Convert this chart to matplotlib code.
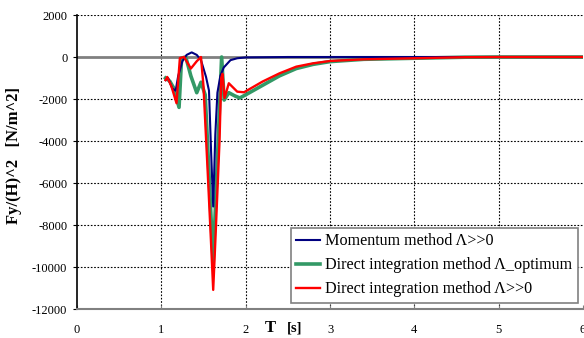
import matplotlib
matplotlib.use("Agg")
import matplotlib.pyplot as plt

plt.rcParams['font.family'] = ['Liberation Serif', 'DejaVu Serif']
plt.rcParams['axes.unicode_minus'] = False

# Momentum method
t_mom = [1.05, 1.08, 1.13, 1.17, 1.20, 1.25, 1.30, 1.36, 1.42, 1.47, 1.53, 1.565, 1.59, 1.615,
         1.64, 1.665, 1.70, 1.74, 1.82, 1.90, 2.0, 2.5, 3.0, 4.0, 5.0, 6.0]
f_mom = [-1100, -1000, -1500, -1600, -900, -200, 100, 220, 100, -150, -950, -1600, -4500, -7120,
         -3700, -1700, -900, -500, -150, -60, -20, 0, 0, 0, 0, 0]

# Direct integration, Lambda optimum
t_opt = [1.05, 1.10, 1.15, 1.21, 1.24, 1.29, 1.35, 1.42, 1.47, 1.52, 1.56, 1.59, 1.615, 1.64,
         1.68, 1.715, 1.745, 1.80, 1.87, 1.93, 2.0, 2.2, 2.4, 2.6, 2.8, 3.0, 3.4, 4.0, 4.6, 5.0, 6.0]
f_opt = [-1000, -1150, -1500, -2400, -50, 0, -900, -1700, -1200, -1800, -5100, -7700, -9740, -7300,
         -3400, 0, -2050, -1700, -1850, -1950, -1800, -1350, -900, -550, -350, -220, -110, -60, -10, 0, 0]

# Direct integration, Lambda >> 0
t_big = [1.05, 1.07, 1.12, 1.18, 1.22, 1.27, 1.35, 1.42, 1.47, 1.50, 1.55, 1.59, 1.615, 1.64,
         1.69, 1.71, 1.725, 1.75, 1.80, 1.90, 1.98, 2.2, 2.4, 2.6, 2.8, 3.0, 3.4, 4.0, 4.6, 5.0, 6.0]
f_big = [-1100, -950, -1400, -2200, -50, 0, -550, -200, 0, -1400, -5500, -8900, -11090, -8800,
         -4000, -1000, -800, -1950, -1250, -1650, -1680, -1170, -780, -460, -300, -190, -110, -60, -10, 0, 0]

labels = ["Momentum method \u039b>>0",
          "Direct integration method \u039b_optimum",
          "Direct integration method \u039b>>0"]

fig = plt.figure(figsize=(5.84, 3.38), dpi=100)
ax = fig.add_axes([77/584, 1 - 309/338, 506/584, 294/338])

ax.set_xlim(0, 6)
ax.set_ylim(-12000, 2000)
ax.set_xticks([0, 1, 2, 3, 4, 5, 6])
ax.set_yticks(list(range(-12000, 2001, 2000)))

for x in [1, 2, 3, 4, 5]:
    ax.axvline(x, color='black', lw=0.8, ls=(0, (1.5, 1.5)), zorder=1)
for y in [2000, -2000, -4000, -6000, -8000, -10000]:
    ax.axhline(y, color='black', lw=0.8, ls=(0, (1.5, 1.5)), zorder=1)
ax.axhline(0, color='#808080', lw=2.0, zorder=1)

ax.plot(t_mom, f_mom, color='#000080', lw=1.5, label=labels[0], zorder=4)
ax.plot(t_opt, f_opt, color='#339966', lw=2.6, label=labels[1], zorder=3)
ax.plot(t_big, f_big, color='#ff0000', lw=1.7, label=labels[2], zorder=5)

for s in ['top', 'right']:
    ax.spines[s].set_visible(False)
ax.spines['left'].set_color('black')
ax.spines['left'].set_linewidth(1.2)
ax.spines['bottom'].set_color('#808080')
ax.spines['bottom'].set_linewidth(1.5)

ax.tick_params(axis='y', direction='out', length=3, pad=4, labelsize=9)
ax.tick_params(axis='x', direction='in', length=3, pad=11, labelsize=9, color='#808080')

leg = ax.legend(loc='lower right', bbox_to_anchor=(0.990, 0.020), borderaxespad=0,
                fancybox=False, framealpha=1, edgecolor='#808080', fontsize=11.6,
                handlelength=1.5, labelspacing=0.5, borderpad=0.35, handletextpad=0.3)
leg.get_frame().set_linewidth(1.2)

fig.text(14/584, 1 - 155/338, "Fy/(H)^2   [N/m^2]", rotation=90, ha='center', va='center',
         fontsize=12, fontweight='bold')
fig.text(270/584, 1 - 328/338, "T", ha='center', va='center', fontsize=12, fontweight='bold')
fig.text(295/584, 1 - 328/338, "[s]", ha='center', va='center', fontsize=10.5, fontweight='bold')

fig.savefig("out.png", dpi=100)
